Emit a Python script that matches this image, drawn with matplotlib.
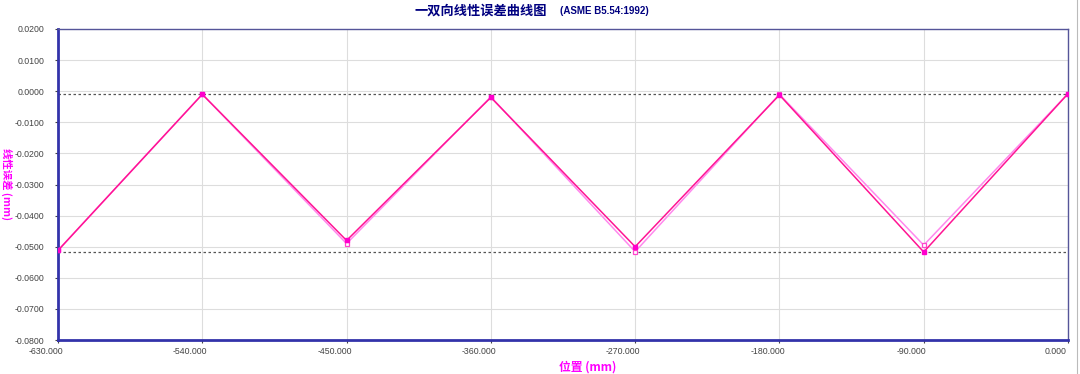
import matplotlib
matplotlib.use("Agg")
import matplotlib.pyplot as plt
from matplotlib.ticker import FormatStrFormatter, MultipleLocator
from matplotlib.transforms import ScaledTranslation
from matplotlib.lines import Line2D

plt.rcParams['font.family'] = ['Noto Sans CJK SC', 'DejaVu Sans']

positions = [-630, -540, -450, -360, -270, -180, -90, 0]
forward = [-0.0512, -0.0010, -0.0480, -0.0020, -0.0500, -0.0012, -0.0517, -0.0008]
reverse = [-0.0512, -0.0010, -0.0490, -0.0018, -0.0516, -0.0010, -0.0495, -0.0008]
upper_limit = -0.0008
lower_limit = -0.0518

title = "一双向线性误差曲线图"
subtitle = "(ASME B5.54:1992)"
xlabel = "位置 (mm)"
ylabel = "线性误差 (mm)"

fig = plt.figure(figsize=(10.8, 3.74), dpi=100)
ax = fig.add_axes([58/1080, 1-340/374, (1068-58)/1080, (340-29)/374])

ax.axhline(upper_limit, color='#555555', ls=(0, (2, 2)), lw=0.9, zorder=2)
ax.axhline(lower_limit, color='#555555', ls=(0, (2, 2)), lw=0.9, zorder=2)

ax.plot(positions, reverse, color='#FF88EE', lw=1.1, marker='s', ms=3.3,
        mfc='white', mec='#FF44CC', mew=0.9, zorder=3)
ax.plot(positions, forward, color='#FF1493', lw=1.1, marker='s', ms=3.3,
        mfc='#FF00CC', mec='#FF00CC', zorder=4)

ax.set_xlim(-630, 0)
ax.set_ylim(-0.08, 0.02)
ax.xaxis.set_major_locator(MultipleLocator(90))
ax.yaxis.set_major_locator(MultipleLocator(0.01))
ax.xaxis.set_major_formatter(FormatStrFormatter('%.3f'))
ax.yaxis.set_major_formatter(FormatStrFormatter('%.4f'))
ax.grid(True, color='#DDDDDD', lw=0.8, zorder=0)
ax.set_axisbelow(True)

for s in ['left', 'bottom']:
    ax.spines[s].set_color('#3333AA')
    ax.spines[s].set_linewidth(2)
for s in ['top', 'right']:
    ax.spines[s].set_color('#555599')
    ax.spines[s].set_linewidth(1)

ax.tick_params(axis='both', labelsize=6.3, colors='#444444', length=2, width=0.8)
ax.tick_params(axis='x', pad=3)
ax.tick_params(axis='y', pad=8)
for lab in ax.get_xticklabels() + ax.get_yticklabels():
    lab.set_family(['Liberation Sans', 'DejaVu Sans'])
offset = ScaledTranslation(-12/100, 0, fig.dpi_scale_trans)
for lab in ax.get_xticklabels():
    lab.set_transform(lab.get_transform() + offset)

fig.text(547/1080, 1-11/374, title, ha='right', va='center', fontsize=9.5,
         fontweight='bold', color='#000080')
fig.text(560/1080, 1-11/374, subtitle, ha='left', va='center', fontsize=7,
         fontweight='bold', color='#000080', family=['Liberation Sans', 'DejaVu Sans'])
fig.text(588/1080, 1-367/374, xlabel, ha='center', va='center', fontsize=8.5,
         fontweight='bold', color='#FF00FF')
fig.text(7/1080, 1-184/374, ylabel, ha='center', va='center', fontsize=7.5,
         fontweight='bold', color='#FF00FF', rotation=270)

fig.add_artist(Line2D([1077/1080, 1077/1080], [0, 1], transform=fig.transFigure,
                      color='#BBBBBB', lw=0.8))

fig.savefig('out.png', dpi=100)
